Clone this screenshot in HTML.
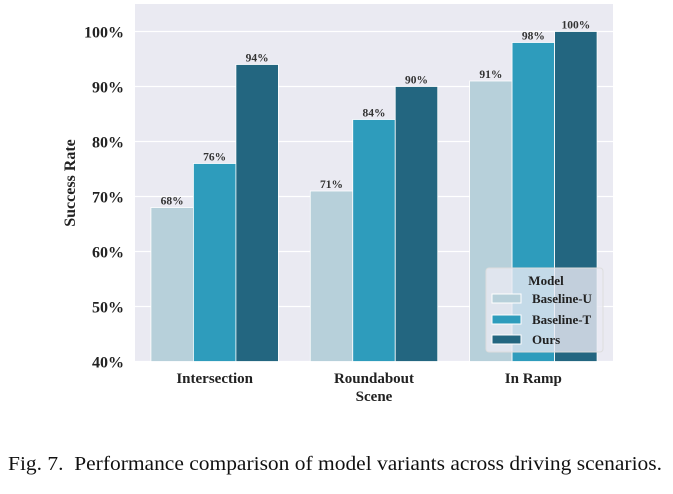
<!DOCTYPE html>
<html><head><meta charset="utf-8"><style>
body{margin:0;background:#fff;width:673px;height:489px;overflow:hidden}
svg text{font-family:"Liberation Serif",serif}
</style></head><body>
<svg width="673" height="489">
<rect x="135" y="4" width="478" height="357.5" fill="#eaeaf2"/>
<g id="grid"></g><g id="bars"></g><g id="labels"></g>
<text transform="translate(75,183) rotate(-90)" text-anchor="middle" font-size="16" font-weight="bold" fill="#222">Success Rate</text>
<g>
<rect x="486" y="268" width="117" height="84" rx="3" fill="#eaeaf2" fill-opacity="0.8" stroke="#ddd"/>
<text x="546" y="285" text-anchor="middle" font-size="13" font-weight="bold" fill="#222">Model</text>
<rect x="492" y="294" width="29" height="9" fill="#b7d0da" stroke="#fff"/>
<text x="532" y="303" font-size="13" font-weight="bold" fill="#222">Baseline-U</text>
<rect x="492" y="315" width="29" height="9" fill="#2e9cbc" stroke="#fff"/>
<text x="532" y="324" font-size="13" font-weight="bold" fill="#222">Baseline-T</text>
<rect x="492" y="335" width="29" height="9" fill="#236680" stroke="#fff"/>
<text x="532" y="344" font-size="13" font-weight="bold" fill="#222">Ours</text>
</g>
<text x="8" y="470" font-size="20" fill="#111" textLength="654" lengthAdjust="spacingAndGlyphs" xml:space="preserve">Fig. 7.  Performance comparison of model variants across driving scenarios.</text>
</svg>
<script>
const categories=["Intersection","Roundabout\nScene","In Ramp"];
const baselineU=[68,71,91];
const baselineT=[76,84,98];
const ours=[94,90,100];
const yTicks=[40,50,60,70,80,90,100];
const series=[baselineU,baselineT,ours];
const colors=["#b7d0da","#2e9cbc","#236680"];
const names=["baseline-u","baseline-t","ours"];
const NS="http://www.w3.org/2000/svg";
const L=135,R=613,T=4,B=361.5;
function y(v){return 31.5+(100-v)*5.5;}
const band=(R-L)/categories.length,bw=band*0.8/3;
function x(i,s){return L+band*i+band*0.1+s*bw;}
function mk(tag,attrs,parent,txt){const e=document.createElementNS(NS,tag);for(const k in attrs)e.setAttribute(k,attrs[k]);if(txt!==undefined)e.textContent=txt;document.getElementById(parent).appendChild(e);return e;}
yTicks.forEach(t=>{
 const l=mk('line',{x1:L,x2:R,y1:y(t),y2:y(t),stroke:'#fff','stroke-width':1.2},'grid');
 
 
 const tx=mk('text',{x:124,y:y(t)+6,'text-anchor':'end','font-size':16,'font-weight':'bold',fill:'#222'},'grid',t+'%');
 
 
});
categories.forEach((c,i)=>{
 const parts=c.split('\n');
 parts.forEach((p,j)=>{
  const tx=mk('text',{x:L+band*(i+0.5),y:383+j*18,'text-anchor':'middle','font-size':15,'font-weight':'bold',fill:'#222'},'labels',p);
  
  
 });
 series.forEach((s,k)=>{
  const r=mk('rect',{x:x(i,k),y:y(s[i]),width:bw,height:B-y(s[i]),fill:colors[k],stroke:'#fff','stroke-width':0.8},'bars');
  
  
  const v=mk('text',{x:x(i,k)+bw/2,y:y(s[i])-3,'text-anchor':'middle','font-size':11.5,'font-weight':'bold',fill:'#333'},'labels',s[i]+'%');
  
  
 });
});
</script>
</body></html>
